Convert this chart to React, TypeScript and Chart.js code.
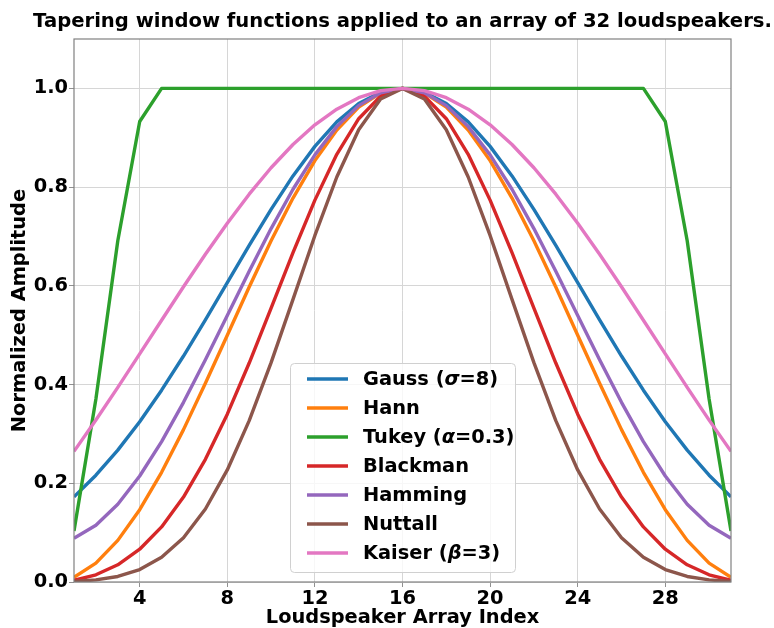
import { useEffect, useRef } from "react";
import { Chart, registerables } from "chart.js";

Chart.register(...registerables);

// Loudspeaker positions along the array
const INDEX = [
  1, 2, 3, 4, 5, 6, 7, 8, 9, 10, 11, 12, 13, 14, 15, 16,
  17, 18, 19, 20, 21, 22, 23, 24, 25, 26, 27, 28, 29, 30, 31,
];

const GAUSS = [
  0.1724, 0.2163, 0.2671, 0.3247, 0.3886, 0.4578, 0.5311, 0.6065, 0.6819, 0.7548, 0.8226, 0.8825, 0.9321, 0.9692, 0.9922, 1.0,
  0.9922, 0.9692, 0.9321, 0.8825, 0.8226, 0.7548, 0.6819, 0.6065, 0.5311, 0.4578, 0.3886, 0.3247, 0.2671, 0.2163, 0.1724,
];
const HANN = [
  0.0096, 0.0381, 0.0843, 0.1464, 0.2222, 0.3087, 0.4025, 0.5, 0.5975, 0.6913, 0.7778, 0.8536, 0.9157, 0.9619, 0.9904, 1.0,
  0.9904, 0.9619, 0.9157, 0.8536, 0.7778, 0.6913, 0.5975, 0.5, 0.4025, 0.3087, 0.2222, 0.1464, 0.0843, 0.0381, 0.0096,
];
const TUKEY = [
  0.1033, 0.3706, 0.6913, 0.933, 1.0, 1.0, 1.0, 1.0, 1.0, 1.0, 1.0, 1.0, 1.0, 1.0, 1.0, 1.0,
  1.0, 1.0, 1.0, 1.0, 1.0, 1.0, 1.0, 1.0, 1.0, 1.0, 1.0, 0.933, 0.6913, 0.3706, 0.1033,
];
const BLACKMAN = [
  0.0035, 0.0146, 0.0349, 0.0664, 0.1116, 0.1721, 0.2485, 0.34, 0.4436, 0.5548, 0.6672, 0.7736, 0.8664, 0.9385, 0.9843, 1.0,
  0.9843, 0.9385, 0.8664, 0.7736, 0.6672, 0.5548, 0.4436, 0.34, 0.2485, 0.1721, 0.1116, 0.0664, 0.0349, 0.0146, 0.0035,
];
const HAMMING = [
  0.0888, 0.115, 0.1575, 0.2147, 0.2844, 0.364, 0.4503, 0.54, 0.6297, 0.716, 0.7956, 0.8653, 0.9225, 0.965, 0.9912, 1.0,
  0.9912, 0.965, 0.9225, 0.8653, 0.7956, 0.716, 0.6297, 0.54, 0.4503, 0.364, 0.2844, 0.2147, 0.1575, 0.115, 0.0888,
];
const NUTTALL = [
  0.0012, 0.0042, 0.0112, 0.0252, 0.05, 0.0896, 0.1479, 0.227, 0.3269, 0.4444, 0.5726, 0.702, 0.8205, 0.9162, 0.9784, 1.0,
  0.9784, 0.9162, 0.8205, 0.702, 0.5726, 0.4444, 0.3269, 0.227, 0.1479, 0.0896, 0.05, 0.0252, 0.0112, 0.0042, 0.0012,
];
const KAISER = [
  0.2646, 0.328, 0.3942, 0.462, 0.5303, 0.5981, 0.664, 0.7269, 0.7856, 0.8391, 0.8862, 0.9261, 0.9579, 0.9811, 0.9953, 1.0,
  0.9953, 0.9811, 0.9579, 0.9261, 0.8862, 0.8391, 0.7856, 0.7269, 0.664, 0.5981, 0.5303, 0.462, 0.3942, 0.328, 0.2646,
];

const SERIES_NAMES = [
  "Gauss (σ=8)",
  "Hann",
  "Tukey (α=0.3)",
  "Blackman",
  "Hamming",
  "Nuttall",
  "Kaiser (β=3)",
];
const SERIES_VALUES = [GAUSS, HANN, TUKEY, BLACKMAN, HAMMING, NUTTALL, KAISER];
const SERIES_COLORS = [
  "#1f77b4",
  "#ff7f0e",
  "#2ca02c",
  "#d62728",
  "#9467bd",
  "#8c564b",
  "#e377c2",
];

const X_TICKS = [4, 8, 12, 16, 20, 24, 28];
const Y_TICKS = [0, 0.2, 0.4, 0.6, 0.8, 1.0];

const TITLE = "Tapering window functions applied to an array of 32 loudspeakers.";
const X_LABEL = "Loudspeaker Array Index";
const Y_LABEL = "Normalized Amplitude";

const FAMILY = '"DejaVu Sans", "Liberation Sans", sans-serif';
const TITLE_SIZE = 19.6;
const TICK_SIZE = 19.4;
const LABEL_SIZE = 19.4;
const LEGEND_SIZE = 19.4;
const LINE_WIDTH = 3.4;

// Draws a legend label, rendering Greek symbols in italic
function drawRichLabel(ctx: CanvasRenderingContext2D, text: string, x: number, y: number) {
  const runs: { s: string; italic: boolean }[] = [];
  for (const ch of text) {
    const italic = /[\u0370-\u03ff]/.test(ch);
    const last = runs[runs.length - 1];
    if (last && last.italic === italic) last.s += ch;
    else runs.push({ s: ch, italic });
  }
  let cx = x;
  for (const r of runs) {
    ctx.font = `${r.italic ? "italic " : ""}bold ${LEGEND_SIZE}px ${FAMILY}`;
    ctx.fillText(r.s, cx, y);
    cx += ctx.measureText(r.s).width;
  }
}

const framePlugin = {
  id: "axesFrame",
  afterDatasetsDraw(chart: any) {
    const { ctx, chartArea: a } = chart;
    ctx.save();
    ctx.strokeStyle = "#808080";
    ctx.lineWidth = 1.2;
    ctx.strokeRect(a.left, a.top, a.right - a.left, a.bottom - a.top);
    ctx.restore();
  },
};

const textAndLegendPlugin = {
  id: "textAndLegend",
  afterDraw(chart: any) {
    const { ctx, chartArea: a } = chart;
    const cx = (a.left + a.right) / 2;
    ctx.save();
    ctx.fillStyle = "#000";

    // figure title
    ctx.font = `bold ${TITLE_SIZE}px ${FAMILY}`;
    ctx.textAlign = "center";
    ctx.textBaseline = "alphabetic";
    ctx.fillText(TITLE, cx, 27);

    // x axis title
    ctx.font = `bold ${LABEL_SIZE}px ${FAMILY}`;
    ctx.fillText(X_LABEL, cx, 623);

    // y axis title
    ctx.save();
    ctx.translate(20, (a.top + a.bottom) / 2);
    ctx.rotate(-Math.PI / 2);
    ctx.textBaseline = "middle";
    ctx.fillText(Y_LABEL, 0, 0);
    ctx.restore();

    // legend box, lower centre of the axes
    const boxW = 225;
    const boxH = 209;
    const bx = cx - boxW / 2;
    const by = a.bottom - 10 - boxH;
    ctx.beginPath();
    if ((ctx as any).roundRect) (ctx as any).roundRect(bx + 0.5, by + 0.5, boxW, boxH, 4);
    else ctx.rect(bx + 0.5, by + 0.5, boxW, boxH);
    ctx.fillStyle = "rgba(255,255,255,0.8)";
    ctx.fill();
    ctx.strokeStyle = "#d0d0d0";
    ctx.lineWidth = 1;
    ctx.stroke();

    ctx.textAlign = "left";
    ctx.textBaseline = "middle";
    SERIES_NAMES.forEach((name, i) => {
      const ry = by + 16 + i * 29;
      ctx.beginPath();
      ctx.moveTo(bx + 17, ry);
      ctx.lineTo(bx + 58, ry);
      ctx.strokeStyle = SERIES_COLORS[i];
      ctx.lineWidth = LINE_WIDTH;
      ctx.lineCap = "butt";
      ctx.stroke();
      ctx.fillStyle = "#000";
      drawRichLabel(ctx, name, bx + 73, ry + 1);
    });
    ctx.restore();
  },
};

export default function App() {
  const canvasRef = useRef<HTMLCanvasElement | null>(null);

  useEffect(() => {
    const canvas = canvasRef.current;
    if (!canvas) return;

    const datasets = SERIES_NAMES.map((name, i) => ({
      label: name,
      data: INDEX.map((x, k) => ({ x, y: SERIES_VALUES[i][k] })),
      borderColor: SERIES_COLORS[i],
      backgroundColor: SERIES_COLORS[i],
      borderWidth: LINE_WIDTH,
      pointRadius: 0,
      pointHoverRadius: 0,
      fill: false,
      tension: 0,
      borderJoinStyle: "round" as const,
      clip: 0,
      order: SERIES_NAMES.length - i,
    }));

    const gridColor = "#d6d6d6";

    const chart = new Chart(canvas, {
      type: "line",
      data: { datasets },
      options: {
        animation: false,
        responsive: false,
        devicePixelRatio: 1,
        layout: { padding: { top: 39, right: 43, left: 0, bottom: 0 } },
        plugins: {
          legend: { display: false },
          tooltip: { enabled: false },
          title: { display: false },
        },
        scales: {
          x: {
            type: "linear",
            min: 1,
            max: 31,
            afterBuildTicks: (s: any) => {
              s.ticks = X_TICKS.map((v) => ({ value: v }));
            },
            afterFit: (s: any) => {
              s.height = 46;
            },
            ticks: {
              color: "#000",
              font: { family: FAMILY, size: TICK_SIZE, weight: "bold" },
              padding: 0,
              maxRotation: 0,
              autoSkip: false,
              callback: (v: any) => String(v),
            },
            grid: {
              color: gridColor,
              lineWidth: 1,
              tickLength: 5,
              tickColor: "#909090",
            },
            border: { display: false },
          },
          y: {
            type: "linear",
            min: 0,
            max: 1.1,
            afterBuildTicks: (s: any) => {
              s.ticks = Y_TICKS.map((v) => ({ value: v }));
            },
            afterFit: (s: any) => {
              s.width = 74;
            },
            ticks: {
              color: "#000",
              font: { family: FAMILY, size: TICK_SIZE, weight: "bold" },
              padding: 1,
              autoSkip: false,
              callback: (v: any) => Number(v).toFixed(1),
            },
            grid: {
              color: gridColor,
              lineWidth: 1,
              tickLength: 5,
              tickColor: "#909090",
            },
            border: { display: false },
          },
        },
      },
      plugins: [framePlugin, textAndLegendPlugin],
    });

    return () => chart.destroy();
  }, []);

  return (
    <div style={{ position: "fixed", left: 0, top: 0, width: 774, height: 628, background: "#fff" }}>
      <canvas ref={canvasRef} width={774} height={628} style={{ display: "block" }} />
    </div>
  );
}
